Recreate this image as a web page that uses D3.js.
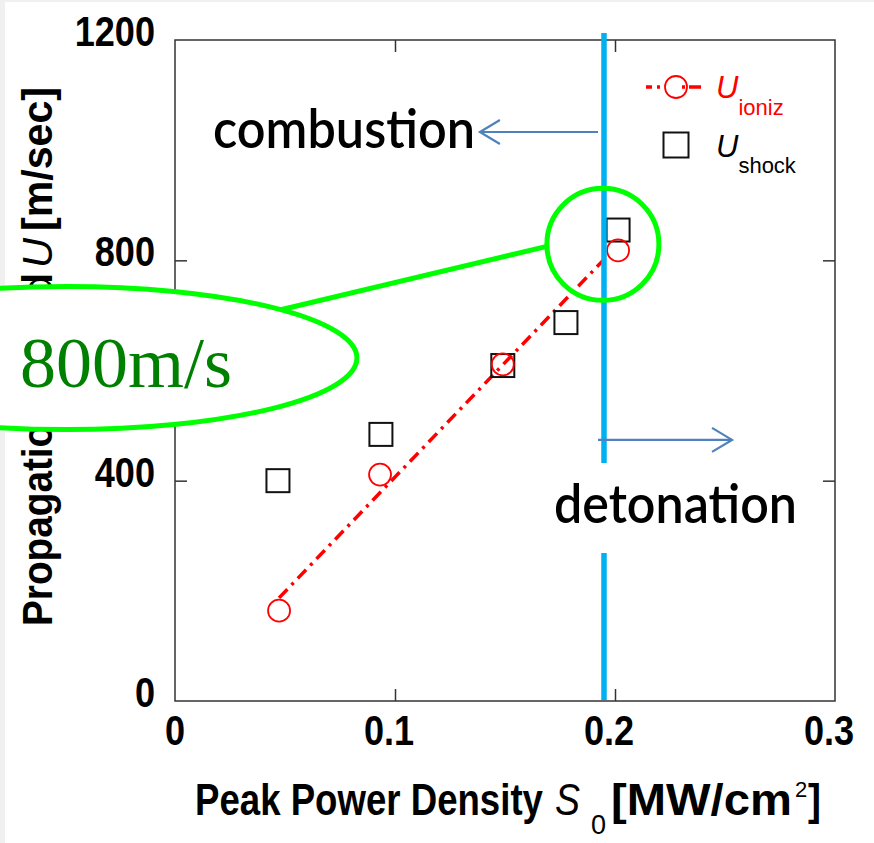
<!DOCTYPE html>
<html><head><meta charset="utf-8">
<script src="https://cdn.jsdelivr.net/npm/d3@7"></script>
<style>html,body{margin:0;padding:0;background:#fff;}svg{display:block;}</style>
</head><body>
<svg id="c" width="874" height="843"></svg>
<script>
// ---- data ----
const xTicks = [0, 0.1, 0.2, 0.3];
const yTicks = [0, 400, 800, 1200];
const xTickLabels = ["0", "0.1", "0.2", "0.3"];
const yTickLabels = ["0", "400", "800", "1200"];
const sIoniz = [0.0473, 0.0932, 0.149, 0.2014];
const uIoniz = [164, 411, 611, 818];
const sShock = [0.0468, 0.0936, 0.149, 0.1777, 0.2014];
const uShock = [400, 484, 609, 687, 855];
const boundaryS = 0.195;          // combustion / detonation boundary
const highlight = {s: 0.1945, u: 829};   // circled region
const calloutText = "800m/s";

const svg = d3.select("#c");
const W = 874, H = 843;
svg.append("rect").attr("width", W).attr("height", H).attr("fill", "#fff");
svg.append("rect").attr("width", 5).attr("height", H).attr("fill", "#f0f0f0");
svg.append("rect").attr("width", W).attr("height", 2).attr("fill", "#f0f0f0");

const x = d3.scaleLinear().domain([0, 0.3]).range([175, 835]);
const y = d3.scaleLinear().domain([0, 1200]).range([701, 40]);

// place a text at (px,py) with rotation, squeezed horizontally to width w
function placed(str, px, py, w, attrs, rot = 0, anchor = "start") {
  const t = svg.append("text").attr("text-anchor", anchor).text(str);
  Object.entries(attrs).forEach(([k, v]) => t.attr(k, v));
  const L = t.node().getComputedTextLength();
  const sx = w == null ? 1 : w / L;
  t.attr("transform", `translate(${px},${py}) rotate(${rot}) scale(${sx},1)`);
  return t;
}

// frame
svg.append("rect").attr("x", x(0)).attr("y", y(1200))
  .attr("width", x(0.3) - x(0)).attr("height", y(0) - y(1200))
  .attr("fill", "none").attr("stroke", "#333").attr("stroke-width", 1.5);

// inward ticks
const tickStyle = g => { g.select(".domain").remove(); g.selectAll("line").attr("stroke", "#333").attr("stroke-width", 1.5); g.selectAll("text").remove(); };
svg.append("g").attr("transform", `translate(0,${y(0)})`).call(d3.axisBottom(x).tickValues([0.1, 0.2]).tickSize(-12)).call(tickStyle);
svg.append("g").attr("transform", `translate(0,${y(1200)})`).call(d3.axisTop(x).tickValues([0.1, 0.2]).tickSize(-12)).call(tickStyle);
svg.append("g").attr("transform", `translate(${x(0)},0)`).call(d3.axisLeft(y).tickValues([400, 800]).tickSize(-12)).call(tickStyle);
svg.append("g").attr("transform", `translate(${x(0.3)},0)`).call(d3.axisRight(y).tickValues([400, 800]).tickSize(-12)).call(tickStyle);

// tick labels
const tickFont = "'Liberation Sans', Arial, sans-serif";
const bold42 = {"font-family": tickFont, "font-weight": "bold", "font-size": 42, "fill": "#000"};
function tickLab(str, px, py, anchor) {
  const t = svg.append("text").attr("text-anchor", anchor).text(str);
  Object.entries(bold42).forEach(([k, v]) => t.attr(k, v));
  t.attr("transform", `translate(${px},${py}) scale(0.86,1)`);
}
yTicks.forEach((v, i) => tickLab(yTickLabels[i], 155, y(v) + 6, "end"));
xTicks.forEach((v, i) => tickLab(xTickLabels[i], x(v) - (i ? 6 : 0), 745, "middle"));

// x axis label (pieces)
{
  const base = 815, fs = 44;
  placed("Peak Power Density", 195, base, 348, {"font-family": tickFont, "font-weight": "bold", "font-size": fs});
  placed("S", 555, base, 25, {"font-family": tickFont, "font-style": "italic", "font-size": fs});
  placed("0", 591, base + 19, null, {"font-family": tickFont, "font-size": 27});
  placed("[MW/cm", 611, base, 181, {"font-family": tickFont, "font-weight": "bold", "font-size": fs});
  placed("2", 795, base - 18, null, {"font-family": tickFont, "font-size": 22});
  placed("]", 808, base, 13, {"font-family": tickFont, "font-weight": "bold", "font-size": fs});
}
// y axis label (pieces, rotated)
{
  const bx = 52;
  placed("Propagation Speed", bx, 626, 353, {"font-family": tickFont, "font-weight": "bold", "font-size": 42}, -90);
  placed("U", bx, 268, 30, {"font-family": tickFont, "font-style": "italic", "font-size": 42}, -90);
  placed("[m/sec]", bx, 231, 144, {"font-family": tickFont, "font-weight": "bold", "font-size": 42}, -90);
}

// regression line through U_ioniz
const n = sIoniz.length;
const mx = d3.mean(sIoniz), my = d3.mean(uIoniz);
let sxy = 0, sxx = 0;
for (let i = 0; i < n; i++) { sxy += (sIoniz[i] - mx) * (uIoniz[i] - my); sxx += (sIoniz[i] - mx) ** 2; }
const slope = sxy / sxx, icpt = my - slope * mx;
const fitX = [d3.min(sIoniz), d3.max(sIoniz) - 0.004];
const dashPat = "12,6,3,6";
svg.append("path")
  .attr("d", d3.line().x(d => x(d)).y(d => y(icpt + slope * d))(fitX))
  .attr("fill", "none").attr("stroke", "#ff0000").attr("stroke-width", 3.5)
  .attr("stroke-dasharray", dashPat);

// markers
svg.selectAll("rect.shock").data(sShock.map((s, i) => [s, uShock[i]])).join("rect")
  .attr("class", "shock").attr("x", d => x(d[0]) - 11.5).attr("y", d => y(d[1]) - 11.5)
  .attr("width", 23).attr("height", 23).attr("fill", "none").attr("stroke", "#111").attr("stroke-width", 2);
svg.selectAll("circle.ioniz").data(sIoniz.map((s, i) => [s, uIoniz[i]])).join("circle")
  .attr("class", "ioniz").attr("cx", d => x(d[0])).attr("cy", d => y(d[1])).attr("r", 11)
  .attr("fill", "none").attr("stroke", "#ff0000").attr("stroke-width", 1.8);

// boundary line (with gap for the label)
const blue = "#00b0f0";
svg.append("line").attr("x1", x(boundaryS)).attr("x2", x(boundaryS)).attr("y1", 33).attr("y2", 463)
  .attr("stroke", blue).attr("stroke-width", 5.5);
svg.append("line").attr("x1", x(boundaryS)).attr("x2", x(boundaryS)).attr("y1", 553).attr("y2", y(0) - 1)
  .attr("stroke", blue).attr("stroke-width", 5.5);

// arrows
const arrowC = "#4f81bd";
function arrow(x1, yy, x2) {
  const dir = Math.sign(x2 - x1);
  svg.append("line").attr("x1", x1).attr("y1", yy).attr("x2", x2).attr("y2", yy)
    .attr("stroke", arrowC).attr("stroke-width", 2.2);
  svg.append("path").attr("d", `M${x2 - dir * 20},${yy - 12}L${x2},${yy}L${x2 - dir * 20},${yy + 12}`)
    .attr("fill", "none").attr("stroke", arrowC).attr("stroke-width", 2.2);
}
arrow(x(boundaryS) - 6, y(1033), x(0.1386));
arrow(x(boundaryS) - 6, y(474), x(0.2532));

const annFont = "Lato, 'Open Sans', sans-serif";
placed("combustion", 475, 148, 262, {"font-family": annFont, "font-weight": 600, "font-size": 53, "fill": "#000"}, 0, "end");
placed("detonation", 554, 523, 243, {"font-family": annFont, "font-weight": 600, "font-size": 53, "fill": "#000"});

// legend
{
  const lx = 676, ly1 = 87, ly2 = 145;
  svg.append("line").attr("x1", 646).attr("x2", 701).attr("y1", ly1).attr("y2", ly1)
    .attr("stroke", "#ff0000").attr("stroke-width", 3.5).attr("stroke-dasharray", "6,5,3,22,3,4,12");
  svg.append("circle").attr("cx", lx).attr("cy", ly1).attr("r", 11).attr("fill", "none")
    .attr("stroke", "#ff0000").attr("stroke-width", 1.8);
  svg.append("rect").attr("x", lx - 12.5).attr("y", ly2 - 12.5).attr("width", 25).attr("height", 25)
    .attr("fill", "none").attr("stroke", "#111").attr("stroke-width", 2);
  const t1 = svg.append("text").attr("x", 716).attr("y", 98).attr("font-family", tickFont).attr("fill", "#ff0000");
  t1.append("tspan").attr("font-style", "italic").attr("font-size", 31).text("U");
  t1.append("tspan").attr("font-size", 22).attr("dy", 17).text("ioniz");
  const t2 = svg.append("text").attr("x", 716).attr("y", 157).attr("font-family", tickFont).attr("fill", "#000");
  t2.append("tspan").attr("font-style", "italic").attr("font-size", 31).text("U");
  t2.append("tspan").attr("font-size", 22).attr("dy", 16).text("shock");
}

// callout
const green = "#00ff00";
const hx = x(highlight.s), hy = y(highlight.u);
const ell = {cx: x(-0.0491), cy: y(622.7), rx: x(0.1318) - x(0), ry: y(0) - y(130)};
svg.append("line").attr("x1", hx - 56).attr("y1", hy + 2).attr("x2", 200).attr("y2", 329)
  .attr("stroke", green).attr("stroke-width", 5);
svg.append("circle").attr("cx", hx).attr("cy", hy).attr("r", 56).attr("fill", "none")
  .attr("stroke", green).attr("stroke-width", 5);
svg.append("ellipse").attr("cx", ell.cx).attr("cy", ell.cy).attr("rx", ell.rx).attr("ry", ell.ry)
  .attr("fill", "#fff").attr("stroke", green).attr("stroke-width", 5);
svg.append("text").attr("x", 20).attr("y", 387).attr("font-family", "'Liberation Serif', 'Times New Roman', serif")
  .attr("font-size", 72).attr("fill", "#008000").text(calloutText);
</script>
</body></html>
